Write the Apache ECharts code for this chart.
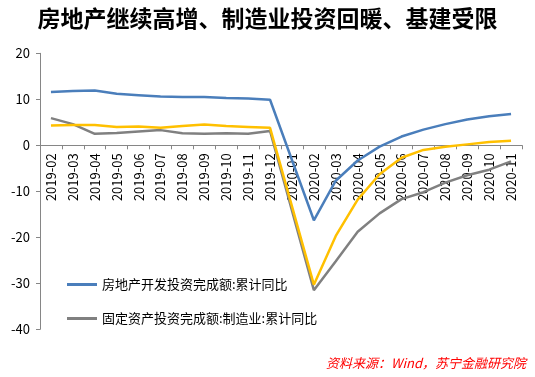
<!DOCTYPE html>
<html><head><meta charset="utf-8">
<script src="https://cdn.jsdelivr.net/npm/echarts@6/dist/echarts.min.js"></script>
<style>html,body{margin:0;padding:0;background:#fff}#c{width:535px;height:377px}</style>
</head><body><div id="c"></div>
<script>
const categories = ['2019-02','2019-03','2019-04','2019-05','2019-06','2019-07','2019-08','2019-09','2019-10','2019-11','2019-12','2020-01','2020-02','2020-03','2020-04','2020-05','2020-06','2020-07','2020-08','2020-09','2020-10','2020-11'];
const realEstate = [11.6,11.8,11.9,11.2,10.9,10.6,10.5,10.5,10.3,10.2,9.9,null,-16.3,-7.7,-3.3,-0.3,1.9,3.4,4.6,5.6,6.3,6.8];
const manufacturing = [5.9,4.6,2.5,2.7,3.0,3.3,2.6,2.5,2.6,2.5,3.1,null,-31.5,-25.2,-18.8,-14.8,-11.7,-10.2,-8.1,-6.5,-5.3,-3.5];
const infrastructure = [4.3,4.4,4.4,4.0,4.1,3.8,4.2,4.5,4.2,4.0,3.8,null,-30.3,-19.7,-11.8,-6.3,-2.7,-1.0,-0.3,0.2,0.7,1.0];
const seriesNames = ['房地产开发投资完成额:累计同比','固定资产投资完成额:制造业:累计同比','基础设施建设投资:累计同比'];
const yTicks = {min:-40,max:20,interval:10};
const titleText = '房地产继续高增、制造业投资回暖、基建受限';
const sourceText = '资料来源：Wind，苏宁金融研究院';

const font = '"Noto Sans CJK SC", "Microsoft YaHei", sans-serif';
const gridTop = 53.3, gridBottom = 47.7, H = 377;
const plotH = H - gridTop - gridBottom;
// distance from the plot bottom up to the zero line
const zeroOffset = plotH * (0 - yTicks.min) / (yTicks.max - yTicks.min);
const chart = echarts.init(document.getElementById('c'), null, {renderer:'canvas'});
chart.setOption({
  animation:false,
  textStyle:{fontFamily:font},
  title:[
    {text:titleText,left:'center',top:2,textStyle:{fontSize:23,fontWeight:'bold',color:'#000',fontFamily:font}},
    {text:sourceText,right:4,bottom:2,textStyle:{fontSize:13,fontWeight:'normal',fontStyle:'italic',color:'#ff0000',fontFamily:font}}
  ],
  grid:{left:40,right:13,top:gridTop,bottom:gridBottom,containLabel:false},
  legend:{
    data:[seriesNames[0],seriesNames[1]],
    orient:'vertical',left:62,top:273,itemWidth:30,itemHeight:3,itemGap:21,icon:'rect',
    textStyle:{fontSize:13,color:'#000',fontFamily:font}
  },
  xAxis:{
    type:'category',data:categories,boundaryGap:true,position:'bottom',offset:-zeroOffset,
    axisLine:{onZero:false,lineStyle:{color:'#868686',width:1}},
    axisTick:{show:true,length:4,alignWithLabel:false,lineStyle:{color:'#868686'}},
    axisLabel:{rotate:90,interval:0,fontSize:13,color:'#000',margin:8,fontFamily:font}
  },
  yAxis:{
    type:'value',min:yTicks.min,max:yTicks.max,interval:yTicks.interval,
    axisLine:{show:true,lineStyle:{color:'#868686',width:1}},
    axisTick:{show:true,length:4,lineStyle:{color:'#868686'}},
    splitLine:{show:false},
    axisLabel:{fontSize:13,color:'#000',margin:10,fontFamily:font}
  },
  series:[
    {name:seriesNames[0],type:'line',data:realEstate,symbol:'none',connectNulls:true,lineStyle:{color:'#4a7ebb',width:2.5},itemStyle:{color:'#4a7ebb'},z:3},
    {name:seriesNames[1],type:'line',data:manufacturing,symbol:'none',connectNulls:true,lineStyle:{color:'#808080',width:2.5},itemStyle:{color:'#808080'},z:2},
    {name:seriesNames[2],type:'line',data:infrastructure,symbol:'none',connectNulls:true,lineStyle:{color:'#ffc000',width:2.5},itemStyle:{color:'#ffc000'},z:4}
  ]
});
</script></body></html>
